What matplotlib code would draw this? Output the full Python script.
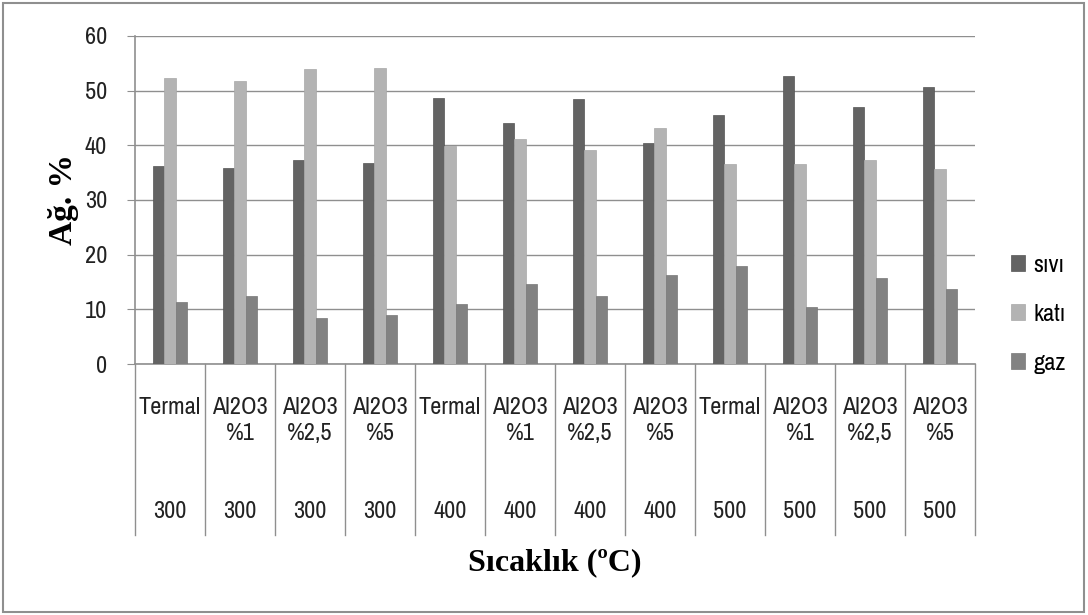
import numpy as np
import matplotlib.pyplot as plt
from matplotlib.patches import Rectangle

# ürün dağılımı (ağırlıkça %)
sartlar = ['Termal', 'Al2O3\n%1', 'Al2O3\n%2,5', 'Al2O3\n%5'] * 3
sicakliklar = ['300'] * 4 + ['400'] * 4 + ['500'] * 4
sivi = [36.3, 35.9, 37.3, 36.8, 48.7, 44.0, 48.4, 40.4, 45.5, 52.7, 47.0, 50.6]
kati = [52.3, 51.8, 53.9, 54.1, 39.9, 41.2, 39.1, 43.1, 36.6, 36.6, 37.3, 35.6]
gaz = [11.3, 12.5, 8.5, 9.0, 11.0, 14.7, 12.5, 16.2, 17.9, 10.4, 15.7, 13.7]

narrow = ['Archivo Narrow', 'Liberation Sans', 'DejaVu Sans']
serif = ['Liberation Serif', 'DejaVu Serif']
gri = '#8f8f8f'
fs = 17.5

fig = plt.figure(figsize=(10.88, 6.15), dpi=100)
ax = fig.add_axes([0.1241, 0.4081, 0.772, 0.5334])

x = np.arange(len(sartlar))
w = 0.16
ax.bar(x - w, sivi, w, color='#636363', edgecolor='#555555', linewidth=0.5, label='sıvı', zorder=3)
ax.bar(x, kati, w, color='#b3b3b3', edgecolor='#a8a8a8', linewidth=0.5, label='katı', zorder=3)
ax.bar(x + w, gaz, w, color='#828282', edgecolor='#777777', linewidth=0.5, label='gaz', zorder=3)

ax.set_xlim(-0.5, len(sartlar) - 0.5)
ax.set_ylim(0, 60)
ax.set_yticks(range(0, 61, 10))
ax.yaxis.grid(True, color=gri, linewidth=1.0, zorder=0)
for s in ['top', 'right']:
    ax.spines[s].set_visible(False)
for s in ['left', 'bottom']:
    ax.spines[s].set_color(gri)
    ax.spines[s].set_linewidth(1.2)
ax.tick_params(axis='y', length=6, color=gri, labelsize=fs, pad=14, labelcolor='#222222')
for t in ax.get_yticklabels():
    t.set_family(narrow)
ax.set_xticks([])

# iki seviyeli kategori ekseni
tr = ax.get_xaxis_transform()
for i, (s, t) in enumerate(zip(sartlar, sicakliklar)):
    ax.text(i, -0.100, s, transform=tr, ha='center', va='top', fontsize=fs,
            family=narrow, linespacing=1.3, color='#222222')
    ax.text(i, -0.451, t, transform=tr, ha='center', va='center', fontsize=fs,
            family=narrow, color='#222222')
for b in np.arange(-0.5, len(sartlar), 1.0):
    ax.plot([b, b], [0, -0.521], transform=tr, color=gri, lw=1, clip_on=False)

ax.set_ylabel('Ağ. %', fontsize=24, fontweight='bold', family=serif, labelpad=4)
fig.text(0.51, 0.085, 'Sıcaklık (ºC)', ha='center', va='center', fontsize=23,
         fontweight='bold', family=serif)

ax.legend(loc='center left', bbox_to_anchor=(1.028, 0.152), frameon=False,
          borderpad=0, handlelength=0.6, handleheight=0.6, labelspacing=1.15,
          handletextpad=0.35, prop={'family': narrow, 'size': fs})

fig.patches.append(Rectangle((0.003, 0.005), 0.993, 0.99, transform=fig.transFigure,
                             fill=False, edgecolor=gri, linewidth=1.5))

fig.savefig('out.png', dpi=100)
